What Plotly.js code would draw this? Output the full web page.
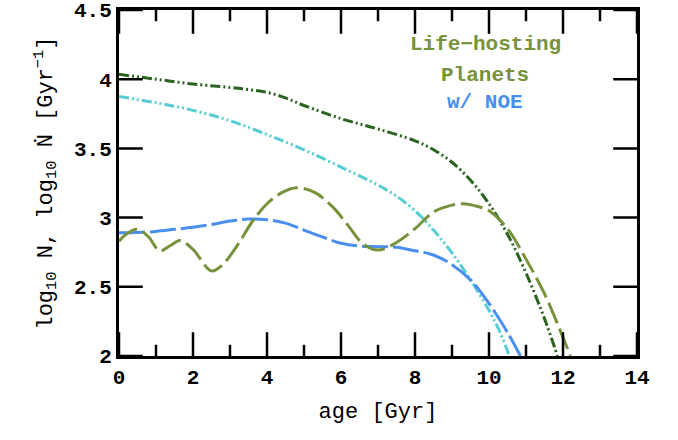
<!DOCTYPE html>
<html>
<head>
<meta charset="utf-8">
<script src="https://cdn.plot.ly/plotly-3.0.1.min.js"></script>
<style>html,body{margin:0;padding:0;background:#fff}#plot{width:678px;height:440px}</style>
</head>
<body>
<div id="plot"></div>
<script>
// Dark green dash-dot-dot curve
const darkAge = [0,1,2,3,3.5,4,4.5,5,6,7,8,8.5,9,9.5,10,10.5,11,11.5,11.85];
const darkVal = [4.035,4.0,3.965,3.94,3.925,3.905,3.865,3.81,3.715,3.64,3.555,3.49,3.40,3.27,3.10,2.88,2.6,2.27,2.0];
// Cyan dash-dot-dot curve
const cyanAge = [0,1,2,3,4,5,6,7,7.5,8,8.5,9,9.5,10,10.3,10.55];
const cyanVal = [3.875,3.83,3.775,3.70,3.60,3.49,3.365,3.235,3.155,3.05,2.91,2.745,2.55,2.33,2.17,2.0];
// Blue long-dash curve (w/ NOE)
const blueAge = [0,0.5,1,1.5,2,2.5,3,3.5,4,4.5,5,5.5,6,6.5,7,7.5,8,8.5,9,9.5,10,10.5,10.85];
const blueVal = [2.89,2.892,2.90,2.915,2.93,2.95,2.975,2.99,2.985,2.96,2.91,2.86,2.815,2.795,2.79,2.785,2.76,2.73,2.66,2.55,2.38,2.17,2.0];
// Olive long-dash curve (life-hosting planets)
const oliveAge = [0,0.25,0.5,0.8,1.1,1.4,1.65,2.0,2.5,2.8,3.2,3.6,4,4.4,4.8,5.3,5.8,6.2,6.6,7.0,7.5,8.0,8.5,9.0,9.3,9.7,10.0,10.5,11.0,11.5,11.9,12.2];
const oliveVal = [2.83,2.89,2.915,2.86,2.76,2.80,2.835,2.77,2.615,2.66,2.80,2.97,3.1,3.18,3.215,3.18,3.07,2.94,2.81,2.765,2.82,2.92,3.04,3.09,3.10,3.08,3.05,2.92,2.70,2.45,2.2,2.0];

const xTicks = [0,2,4,6,8,10,12,14];
const xMinorTicks = [1,3,5,7,9,11,13];
const yTicks = [2,2.5,3,3.5,4,4.5];
const yTickText = ['2','2.5','3','3.5','4','4.5'];
const legendLines = ['Life\u2212hosting','Planets','w/ NOE'];

const FONT = '"Liberation Mono", "DejaVu Sans Mono", monospace';
const OLIVE = '#76923a';
const BLUE = '#4a8ff0';
const DARK = '#2a6420';
const CYAN = '#55cdd2';
const X_RANGE = [0,14];
const Y_RANGE = [2,4.5];
const MAJOR = 17, MINOR = 8;

const traces = [
  {x: darkAge, y: darkVal, mode:'lines', line:{color:DARK, width:3, shape:'spline', dash:'10px,3px,2px,3px,2px,3px'}},
  {x: cyanAge, y: cyanVal, mode:'lines', line:{color:CYAN, width:3, shape:'spline', dash:'10px,3px,2px,3px,2px,3px'}},
  {x: blueAge, y: blueVal, mode:'lines', line:{color:BLUE, width:3, shape:'spline', dash:'26px,5px'}},
  {x: oliveAge, y: oliveVal, mode:'lines', line:{color:OLIVE, width:3, shape:'spline', dash:'22px,6px'}}
];

// inward tick marks: line markers centred on the frame, the outer half clipped by the plot area
function tickTrace(xs, ys, symbol, len) {
  return {x: xs, y: ys, mode:'markers', cliponaxis:true, hoverinfo:'skip',
    marker:{symbol: symbol, size: 2*len, color:'black', line:{color:'black', width:2.5}}};
}
[Y_RANGE[0], Y_RANGE[1]].forEach(edge => {
  traces.push(tickTrace(xTicks, xTicks.map(() => edge), 'line-ns-open', MAJOR));
  traces.push(tickTrace(xMinorTicks, xMinorTicks.map(() => edge), 'line-ns-open', MINOR));
});
[X_RANGE[0], X_RANGE[1]].forEach(edge => {
  traces.push(tickTrace(yTicks.map(() => edge), yTicks, 'line-ew-open', MAJOR));
});

const layout = {
  width:678, height:440,
  margin:{l:119, r:41, t:10, b:84},
  paper_bgcolor:'white', plot_bgcolor:'white',
  showlegend:false,
  xaxis: {
    showline:true, linecolor:'black', linewidth:3, mirror:true,
    ticks:'', showgrid:false, zeroline:false,
    tickfont:{family:FONT, size:21, color:'black', weight:'bold'},
    range:X_RANGE, tickvals:xTicks,
    title:{text:'age [Gyr]', font:{family:FONT, size:22, color:'black'}, standoff:14}
  },
  yaxis: {
    showline:true, linecolor:'black', linewidth:3, mirror:true,
    ticks:'', showgrid:false, zeroline:false,
    tickfont:{family:FONT, size:21, color:'black', weight:'bold'},
    range:Y_RANGE, tickvals:yTicks, ticktext:yTickText,
    title:{text:'log<sub>10</sub> N, log<sub>10</sub> \u1E44 [Gyr<sup>\u22121</sup>]', font:{family:FONT, size:22, color:'black'}, standoff:16}
  },
  annotations: [
    {xref:'paper', yref:'paper', x:0.707, y:0.899, xanchor:'center', yanchor:'middle', text:legendLines[0], showarrow:false, font:{family:FONT, size:21, color:OLIVE, weight:'bold'}},
    {xref:'paper', yref:'paper', x:0.707, y:0.812, xanchor:'center', yanchor:'middle', text:legendLines[1], showarrow:false, font:{family:FONT, size:21, color:OLIVE, weight:'bold'}},
    {xref:'paper', yref:'paper', x:0.707, y:0.734, xanchor:'center', yanchor:'middle', text:legendLines[2], showarrow:false, font:{family:FONT, size:21, color:BLUE, weight:'bold'}}
  ]
};

Plotly.newPlot('plot', traces, layout, {displayModeBar:false});
</script>
</body>
</html>
